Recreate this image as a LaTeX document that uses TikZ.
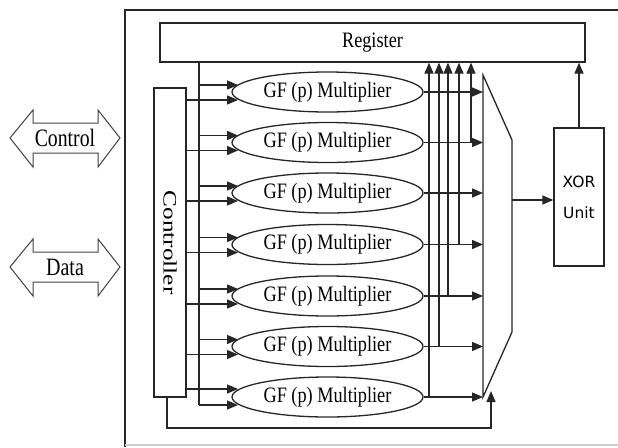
\documentclass[tikz,border=0pt]{standalone}
\usepackage{graphicx}
\usepackage{fontspec}
\setmainfont{Liberation Serif}
\newfontfamily\xorfont{DejaVu Sans}
\usetikzlibrary{arrows.meta,shapes.geometric,calc}
\newcommand{\cond}[2]{\scalebox{#1}[1]{#2}}
\begin{document}
\begin{tikzpicture}[x=1pt,y=-1pt, line width=1.3pt, draw=black!85,
  arr/.style={-{Triangle[length=11pt,width=9pt]}},
  mult/.style={ellipse, draw, minimum width=191pt, minimum height=40pt, inner sep=0pt, font=\fontsize{22}{24}\selectfont},
  boxn/.style={draw, rectangle, inner sep=0pt},
  dbl/.style={draw=black!75, line width=1pt, line join=miter}]
\useasboundingbox (0,0) rectangle (618,447);
% outer frame
\draw (625,10) -- (125,10) -- (125,447);
\draw[black!20] (125,445) -- (618,445);
% register
\node[boxn, minimum width=425pt, minimum height=39pt, font=\fontsize{22}{24}\selectfont] (reg) at (372.5,42.5) {\cond{0.83}{Register}};
% controller
\node[boxn, minimum width=32pt, minimum height=309pt] (con) at (170,242.5) {};
\node[rotate=-90, inner sep=0pt, font=\fontsize{19}{21}\selectfont] (contxt) at (con.center) {\cond{1.33}{Controller}};
% bus
\coordinate (bT) at (199,62);
\coordinate (bB) at (199,405);
\draw (bT) -- (bB);
\coordinate (tipx) at (238,0);
\coordinate (muxL) at (483,0);
% multipliers
\foreach \i/\y in {1/92,2/142.5,3/193,4/244.5,5/296,6/346.5,7/397}
  \node[mult] (m\i) at (327.5,\y) {\cond{0.83}{GF (p) Multiplier}};
% inputs
\foreach \i in {1,...,6}{
  \path (m\i.center) ++(0,-7) coordinate (u\i);
  \path (m\i.center) ++(0,8) coordinate (l\i);
  \draw[arr] (bT |- u\i) -- (u\i -| tipx);
  \draw[arr] (con.east |- l\i) -- (l\i -| tipx);
}
\path (m7.center) ++(0,-8) coordinate (u7);
\path (m7.center) ++(0,8) coordinate (l7);
\draw[arr] (con.east |- u7) -- (u7 -| tipx);
\draw[arr] (bB) -- (l7 -| tipx);
% outputs to mux
\foreach \i in {1,...,7}
  \draw[arr] (m\i.east) -- (m\i.east -| muxL);
% outputs to register
\foreach \i/\x in {7/429,6/439,5/448,4/459,2/471}{
  \coordinate (r\i) at (\x,0);
  \draw[arr] (m\i.east -| r\i) -- (r\i |- reg.south);
}
% mux
\coordinate (mA) at (483,75);
\coordinate (mB) at (512,140);
\coordinate (mC) at (512,332);
\coordinate (mD) at (483,397);
\draw[line join=miter] (mA) -- (mB) -- (mC) -- (mD) -- cycle;
\coordinate (muxout) at (512,200);
% XOR unit
\node[boxn, minimum width=50pt, minimum height=138pt, align=center,
  font=\xorfont\fontsize{15.5}{31}\selectfont] (xor) at (579,197) {XOR\\Unit};
\draw[arr] (muxout) -- (muxout -| xor.west);
\draw[arr] (xor.north) -- (xor.north |- reg.south);
% controller feedback to mux
\coordinate (fb1) at (167,428);
\coordinate (fb2) at (491,428);
\coordinate (fb3) at (491,391);
\draw[arr] (con.south -| fb1) -- (fb1) -- (fb2) -- (fb3);
% Control / Data double arrows
\node[inner sep=0pt, font=\fontsize{25}{27}\selectfont] (ctl) at (65,138) {\cond{0.79}{Control}};
\node[inner sep=0pt, font=\fontsize{25}{27}\selectfont] (dat) at (65,267) {\cond{0.8}{Data}};
\foreach \n in {ctl,dat}
  \draw[dbl] ($(\n)+(-55,0)$) -- ++(23,-28) -- ++(0,13) -- ++(65,0) -- ++(0,-13)
    -- ++(22,28) -- ++(-22,29) -- ++(0,-14) -- ++(-65,0) -- ++(0,14) -- cycle;
\end{tikzpicture}
\end{document}
